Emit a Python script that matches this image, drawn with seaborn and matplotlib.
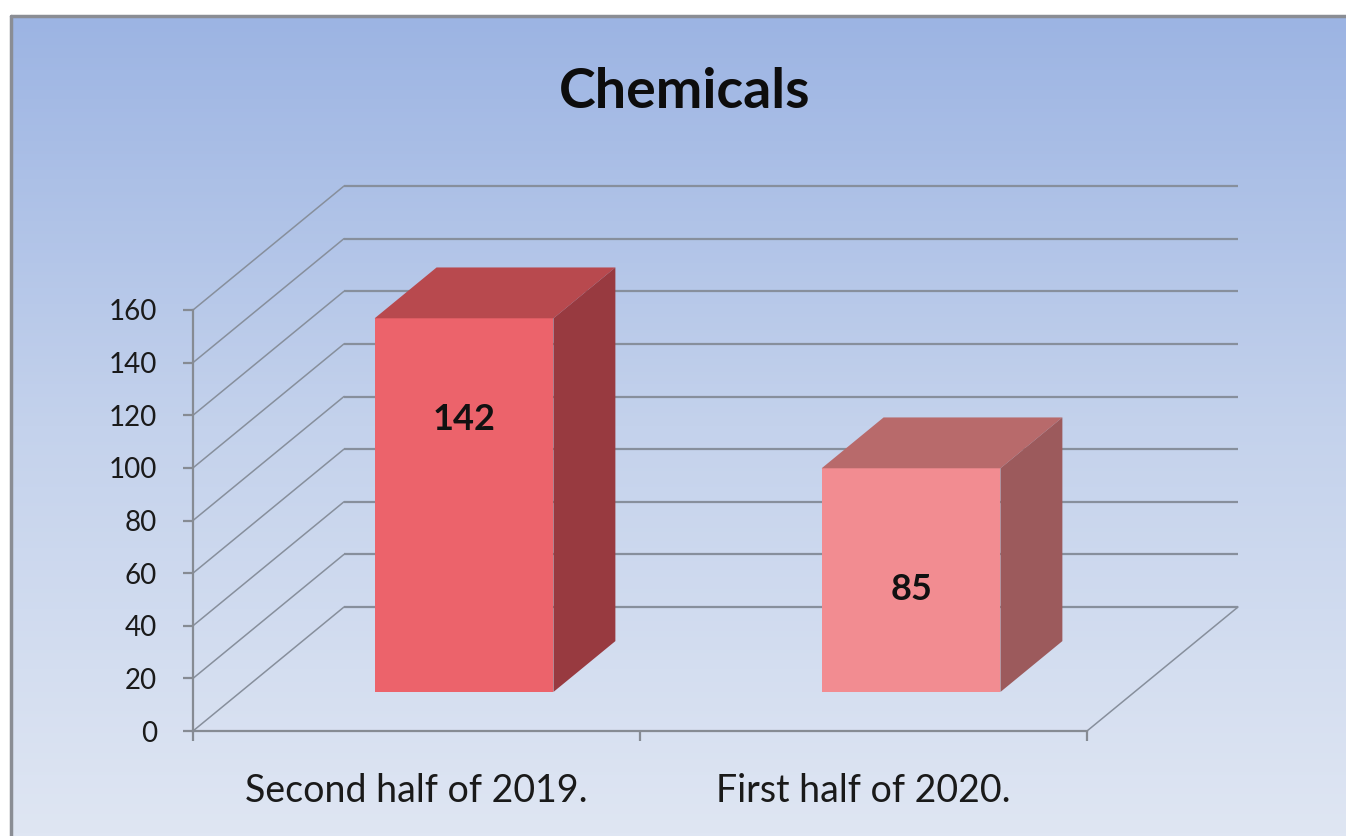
import numpy as np
import matplotlib
matplotlib.use("Agg")
import matplotlib.pyplot as plt
from matplotlib.colors import LinearSegmentedColormap
from matplotlib.lines import Line2D
from matplotlib.patches import Polygon
from matplotlib.transforms import Affine2D
import seaborn as sns

# ---- data ----
categories = ["Second half of 2019.", "First half of 2020."]
values = [142, 85]
y_ticks = [0, 20, 40, 60, 80, 100, 120, 140, 160]
title = "Chemicals"

# ---- style ----
front_colors = ["#ec636b", "#f28c91"]
top_colors = ["#b8494e", "#b86a6b"]
side_colors = ["#983a40", "#9c5a5c"]
label_frac = [0.73, 0.46]

sns.set_style("white")
plt.rcParams["font.family"] = ["Lato", "DejaVu Sans"]

W, H = 1346, 836
fig = plt.figure(figsize=(W / 100, H / 100), dpi=100)
fig.patch.set_facecolor("white")

# background gradient panel
bg = fig.add_axes([12 / W, 0, 1 - 12 / W, (H - 16) / H], zorder=-10)
grad = np.linspace(1, 0, 256).reshape(-1, 1)
cmap = LinearSegmentedColormap.from_list("bg", ["#dfe6f3", "#c4d2ec", "#9cb4e3"])
bg.imshow(grad, aspect="auto", cmap=cmap, extent=[0, 1, 0, 1])
bg.axis("off")
fig.add_artist(Line2D([11 / W, 1], [1 - 16 / H, 1 - 16 / H], color="#8a8d94", lw=2.5,
                      transform=fig.transFigure))
fig.add_artist(Line2D([11 / W, 11 / W], [0, 1 - 16 / H], color="#8a8d94", lw=2.5,
                      transform=fig.transFigure))

# main axes = front plane
ax = fig.add_axes([193 / W, 105 / H, 894 / W, 421 / H])
ax.patch.set_alpha(0)

# depth vector in data units
px_x = 894 / 2.0
px_y = 421 / 160.0
DX = 151 / px_x
DY = 124 / px_y
f_d, b_d = 0.315, 0.725

grid_c = "#878f9c"
# back wall gridlines and side-wall diagonals
for v in y_ticks:
    ax.plot([-0.5 + DX, 1.5 + DX], [v + DY, v + DY], color=grid_c, lw=1.6,
            clip_on=False, zorder=1, solid_capstyle="butt")
    ax.plot([-0.5, -0.5 + DX], [v, v + DY], color=grid_c, lw=1.1, clip_on=False, zorder=1)
ax.plot([1.5, 1.5 + DX], [0, DY], color=grid_c, lw=1.1, clip_on=False, zorder=1)

# front faces via seaborn
sns.barplot(x=categories, y=values, hue=categories, palette=front_colors, width=0.4,
            legend=False, ax=ax, saturation=1, zorder=3)
shift = Affine2D().translate(f_d * DX, f_d * DY) + ax.transData
for p in ax.patches:
    p.set_transform(shift)
    p.set_clip_on(False)
    p.set_edgecolor("none")

bars = list(ax.patches)
for i, p in enumerate(bars):
    x0 = p.get_x()
    x1 = x0 + p.get_width()
    h = p.get_height()
    top = [(x0 + f_d * DX, h + f_d * DY), (x1 + f_d * DX, h + f_d * DY),
           (x1 + b_d * DX, h + b_d * DY), (x0 + b_d * DX, h + b_d * DY)]
    side = [(x1 + f_d * DX, f_d * DY), (x1 + b_d * DX, b_d * DY),
            (x1 + b_d * DX, h + b_d * DY), (x1 + f_d * DX, h + f_d * DY)]
    ax.add_patch(Polygon(top, closed=True, facecolor=top_colors[i], edgecolor="none",
                         clip_on=False, zorder=3))
    ax.add_patch(Polygon(side, closed=True, facecolor=side_colors[i], edgecolor="none",
                         clip_on=False, zorder=3))
    ax.text((x0 + x1) / 2 + f_d * DX, h * label_frac[i] + f_d * DY, str(values[i]),
            ha="center", va="center", fontsize=26, fontweight="bold", color="#111111",
            zorder=5)

ax.set_xlim(-0.5, 1.5)
ax.set_ylim(0, 160)
for s in ["top", "right"]:
    ax.spines[s].set_visible(False)
for s in ["left", "bottom"]:
    ax.spines[s].set_color("#868b93")
    ax.spines[s].set_linewidth(1.6)
    ax.spines[s].set_zorder(2)

ax.set_yticks(y_ticks)
ax.set_yticklabels([str(t) for t in y_ticks])
ax.tick_params(axis="y", direction="out", length=7, width=1.6, color="#868b93",
               pad=19, labelsize=20, labelcolor="#1a1a1a", left=True)
ax.set_xticks([-0.5, 0.5, 1.5])
ax.set_xticklabels([])
ax.set_xticks([0, 1], minor=True)
ax.set_xticklabels(categories, minor=True)
ax.tick_params(axis="x", which="major", direction="out", length=7, width=1.6,
               color="#868b93", bottom=True)
ax.tick_params(axis="x", which="minor", length=0, pad=30, labelsize=27,
               labelcolor="#1a1a1a")
ax.set_xlabel("")
ax.set_ylabel("")

fig.text(685 / W, 1 - 92 / H, title, ha="center", va="center", fontsize=40,
         fontweight="bold", color="#0d0d0d")

fig.savefig("out.png", dpi=100)
